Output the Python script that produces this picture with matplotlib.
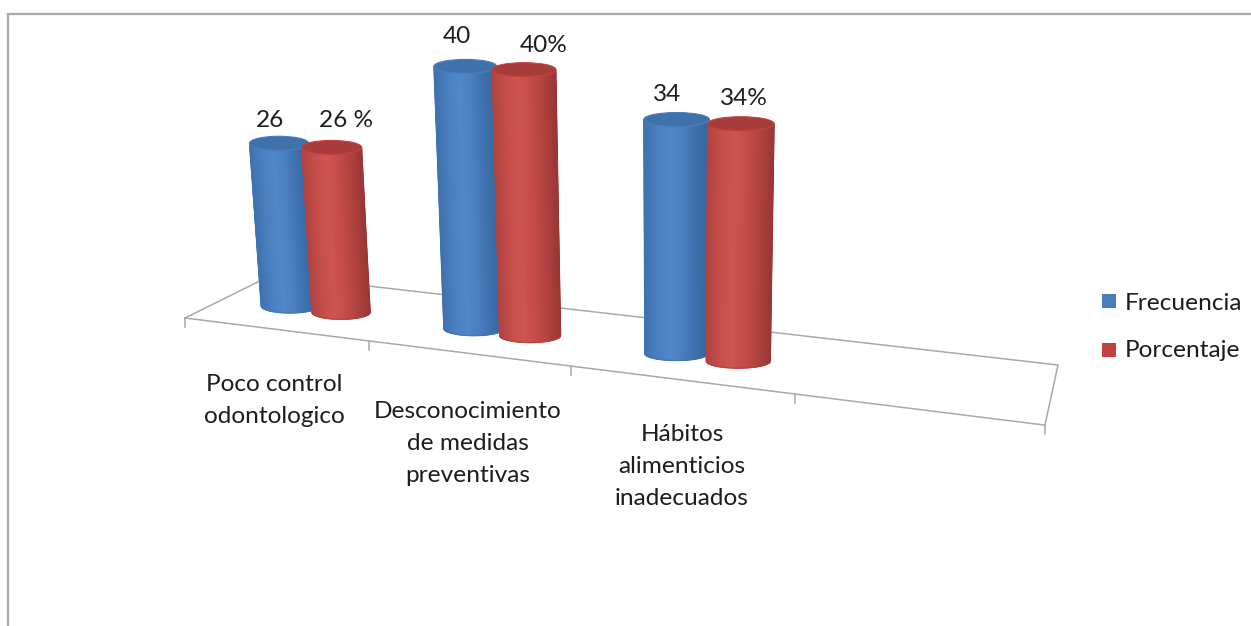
import numpy as np
import matplotlib
matplotlib.use("Agg")
import matplotlib.pyplot as plt
from matplotlib.colors import LinearSegmentedColormap
from matplotlib.patches import Ellipse, Rectangle

# ---- data ----
categories = ["Poco control\nodontologico",
              "Desconocimiento\nde medidas\npreventivas",
              "Hábitos\nalimenticios\ninadecuados"]
series_names = ["Frecuencia", "Porcentaje"]
frecuencia = [26, 40, 34]
porcentaje = [26, 40, 34]
frecuencia_labels = ["26", "40", "34"]
porcentaje_labels = ["26 %", "40%", "34%"]
n_axis_slots = 4

# ---- styles / layout (pixels of the 1251x626 canvas) ----
FONT = "Lato"
FS = 17.6
TXT = "#1c1c22"
GRID = "#a8a8a8"
SER_COL = ["#4a7ebb", "#c4413f"]
TOP_COL = ["#3f72ab", "#a83c3a"]
CMAPS = [
    LinearSegmentedColormap.from_list("b", ["#3f72ae", "#4a80c0", "#5088ca", "#4a80c0", "#3d70ac", "#36659d"]),
    LinearSegmentedColormap.from_list("r", ["#b04340", "#c64e4b", "#cf5552", "#c64c49", "#b04340", "#9b3634"]),
]
BOTTOM_COL = ["#3f75b5", "#b63f3d"]
SERIES_T = [0.583, 0.856]
CAT_STEP = 0.95
PC = -0.0464          # perspective of the floor
HEIGHT_K = 6.09       # px per unit at the front
WIDTH_K = 56.0
RY = 7.0
VX = 670.0            # vanishing x of the vertical lines
LEAN = 0.0011


def depth(t):
    return 1.0 / (1.0 + PC * t)


def floor_x(t):
    return (166.5 * t + 185.0) * depth(t)


def front_y(x):
    return 318.0 + 0.1246 * (x - 185.0)


def base_y(x):
    return 313.0 + 0.123 * (x - 290.0) - RY


fig = plt.figure(figsize=(12.51, 6.26), dpi=100, facecolor="white")
ax = fig.add_axes([0, 0, 1, 1])
ax.set_xlim(0, 1251)
ax.set_ylim(626, 0)
ax.axis("off")

# outer frame
ax.plot([8, 8, 1251], [626, 14, 14], color="#a9a9a9", lw=1.6, solid_joinstyle="miter", zorder=1)

# floor
fx0, fx1 = floor_x(0), floor_x(n_axis_slots)
ax.plot([fx0, 272, 1058, fx1, fx0],
        [front_y(fx0), 275, 365, front_y(fx1), front_y(fx0)],
        color=GRID, lw=1.1, zorder=2)
for k in range(n_axis_slots + 1):
    tx = floor_x(k)
    ax.plot([tx, tx], [front_y(tx), front_y(tx) + 9], color=GRID, lw=1.1, zorder=2)


def cylinder(t, value, s, z):
    bx = floor_x(t)
    by = base_y(bx)
    d = depth(t)
    h = value * HEIGHT_K * d
    e = LEAN * value
    tx = VX + (bx - VX) * (1 + e)
    ty = by - h
    rb = WIDTH_K * d / 2
    rt = rb * (1 + e)
    u = np.linspace(-1, 1, 121)
    arc = np.sqrt(1 - u ** 2)
    X = np.vstack([tx + rt * u, bx + rb * u])
    Y = np.vstack([ty + RY * arc, by + RY * arc])
    C = np.vstack([u, u])
    ax.pcolormesh(X, Y, C, shading="gouraud", cmap=CMAPS[s], vmin=-1, vmax=1,
                  zorder=z, rasterized=True)
    ax.plot(bx + rb * u, by + RY * arc, color=BOTTOM_COL[s], lw=1.0, alpha=0.7, zorder=z + 0.1)
    ax.add_patch(Ellipse((tx, ty), 2 * rt, 2 * RY, facecolor=TOP_COL[s],
                         edgecolor=SER_COL[s], lw=0.8, zorder=z + 0.2))


for i in range(len(categories)):
    for s, vals in enumerate([frecuencia, porcentaje]):
        cylinder(CAT_STEP * i + SERIES_T[s], vals[i], s, 3 + i + s * 0.5)

# data labels (centre x, baseline y)
label_anchor_f = [(270, 127), (457, 43), (667, 101)]
label_anchor_p = [(346, 127), (544, 52), (744, 105)]
for txts, anchors in ((frecuencia_labels, label_anchor_f), (porcentaje_labels, label_anchor_p)):
    for txt, (lx, ly) in zip(txts, anchors):
        ax.text(lx, ly, txt, family=FONT, fontsize=FS, color=TXT, ha="center", va="baseline", zorder=10)

# category labels
cat_anchor = [(274, 391), (468, 418), (682, 441)]
for txt, (lx, ly) in zip(categories, cat_anchor):
    for j, line in enumerate(txt.split("\n")):
        ax.text(lx, ly + j * 32, line, family=FONT, fontsize=FS, color=TXT,
                ha="center", va="baseline", zorder=10)

# legend
for name, col, sy, base in zip(series_names, SER_COL, [294, 343], [310, 357]):
    ax.add_patch(Rectangle((1102, sy), 14, 14, facecolor=col, edgecolor="none", zorder=10))
    ax.text(1125, base, name, family=FONT, fontsize=FS, color=TXT, ha="left", va="baseline", zorder=10)

fig.savefig("out.png", dpi=100, facecolor="white")
